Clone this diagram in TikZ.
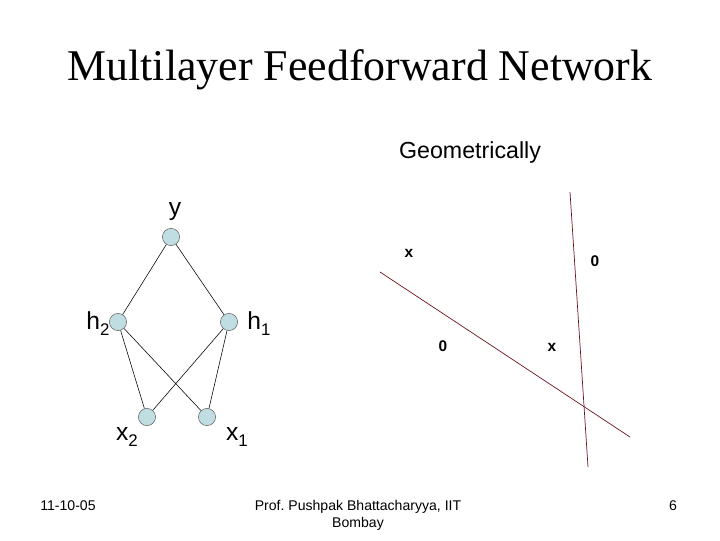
\documentclass[tikz,border=0pt]{standalone}
\usepackage{fontspec}
\setmainfont{Liberation Sans}
\newfontfamily\titlefont{Liberation Serif}
\usetikzlibrary{positioning}

\definecolor{neuronfill}{RGB}{192,222,226}
\definecolor{linered}{RGB}{110,20,30}

\newcommand{\sub}[1]{\raisebox{-0.45ex}{\fontsize{12}{12}\selectfont #1}}

\begin{document}
\begin{tikzpicture}[
  x = {(0.025cm, 0cm)},
  y = {(0cm, -0.025cm)},
  neuron/.style = {circle, draw=black!60, fill=neuronfill, minimum size=0.43cm, inner sep=0pt},
  synapse/.style = {black, line width=0.4pt},
  lbl/.style = {font=\fontsize{17.5}{18}\selectfont, inner sep=1pt},
  pt/.style = {font=\bfseries\fontsize{11}{11}\selectfont, inner sep=1pt},
  sep/.style = {draw=linered, line width=0.5pt},
  foot/.style = {font=\fontsize{10}{12}\selectfont, align=center, anchor=base}
]
  \useasboundingbox (0,0) rectangle (720,540);

  % title
  \node (title) at (360,70) {\titlefont\fontsize{31.2}{32}\selectfont Multilayer Feedforward Network};
  \node (geo) at (470,152) [font=\fontsize{16.5}{17}\selectfont] {Geometrically};

  % network
  \node[neuron] (y)  at (171,237) {};
  \node[neuron] (h2) at (118,322) {};
  \node[neuron] (h1) at (229,322) {};
  \node[neuron] (x2) at (147,417) {};
  \node[neuron] (x1) at (207,417) {};

  \draw[synapse] (y) -- (h2);
  \draw[synapse] (y) -- (h1);
  \draw[synapse] (h2) -- (x2);
  \draw[synapse] (h2) -- (x1);
  \draw[synapse] (h1) -- (x2);
  \draw[synapse] (h1) -- (x1);

  \node[lbl] (ylbl)  at (175,212) {y};
  \node[lbl] (h2lbl) at (98,324)  {h\sub{2}};
  \node[lbl] (h1lbl) at (259,324) {h\sub{1}};
  \node[lbl] (x2lbl) at (127,437) {x\sub{2}};
  \node[lbl] (x1lbl) at (237,437) {x\sub{1}};

  % decision lines
  \draw[sep] (380,272) -- (630,437);
  \draw[sep] (570,192) -- (588,467);

  \node[pt] (pa) at (409,253) {x};
  \node[pt] (pb) at (595,261) {0};
  \node[pt] (pc) at (443,346) {0};
  \node[pt] (pd) at (552,347) {x};

  % footer
  \node[foot] (date)   at (68,510)  {11-10-05};
  \node[foot] (author) at (358,527) {Prof.\ Pushpak Bhattacharyya, IIT\\Bombay};
  \node[foot] (page)   at (673,510) {6};
\end{tikzpicture}
\end{document}
